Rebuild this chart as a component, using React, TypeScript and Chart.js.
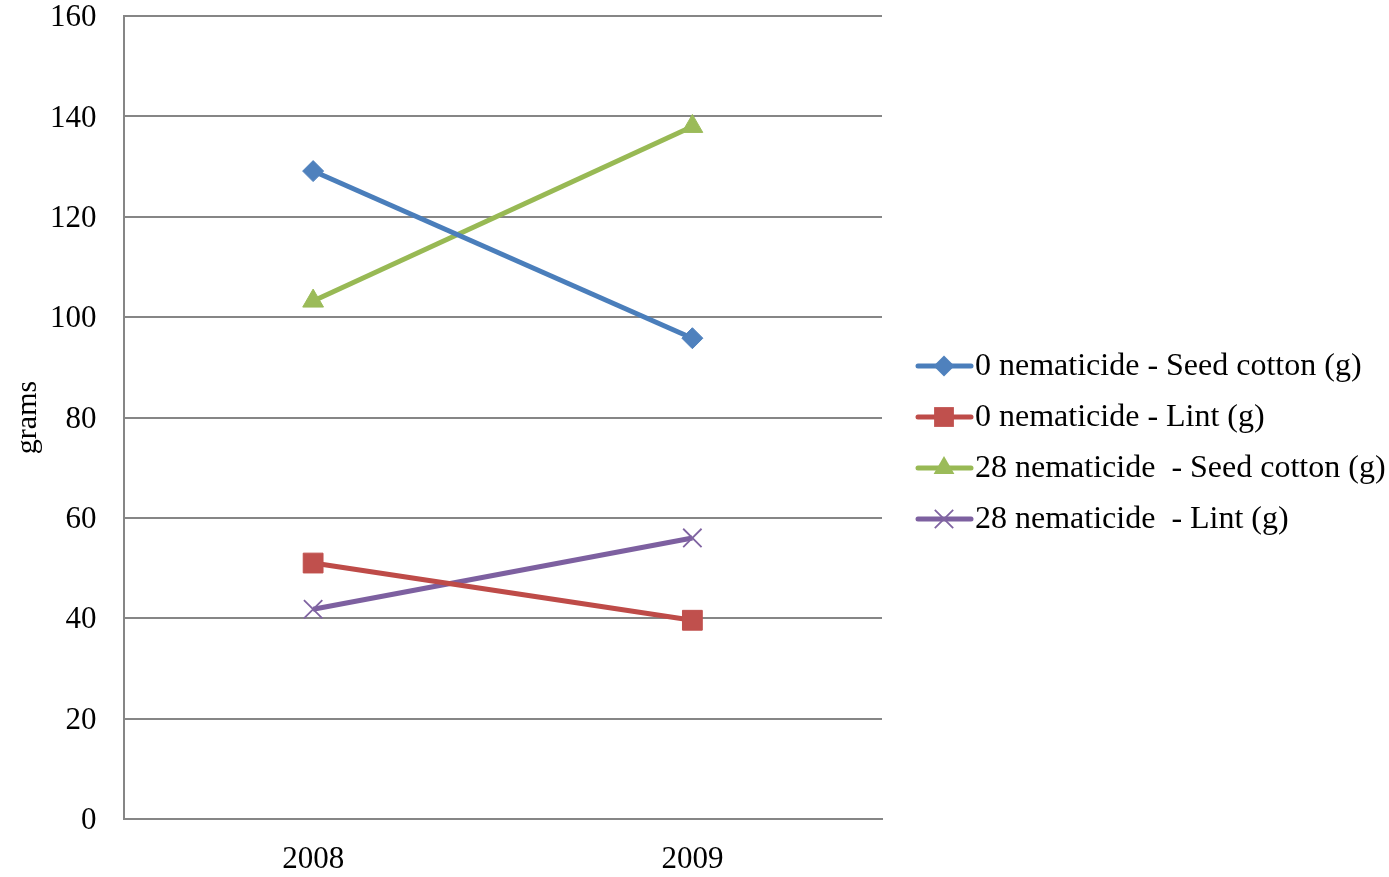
import React, { useEffect, useRef } from "react";
import { Chart, registerables } from "chart.js";

Chart.register(...registerables);

const categories = ["2008", "2009"];
const seedCotton0 = [129.1, 95.8];
const lint0 = [51.0, 39.6];
const seedCotton28 = [103.2, 138.0];
const lint28 = [41.8, 56.0];
const seriesLabels = [
  "0 nematicide - Seed cotton (g)",
  "0 nematicide - Lint (g)",
  "28 nematicide  - Seed cotton (g)",
  "28 nematicide  - Lint (g)",
];
const yTicks = [0, 20, 40, 60, 80, 100, 120, 140, 160];
const yTitle = "grams";

const FONT = "'Liberation Serif', 'Times New Roman', serif";

function marker(ctx: CanvasRenderingContext2D, style: string, r: number, x: number, y: number, fill: string, bw: number) {
  ctx.fillStyle = fill;
  ctx.strokeStyle = fill;
  ctx.lineWidth = bw;
  ctx.beginPath();
  if (style === "rectRot") {
    ctx.moveTo(x - r, y);
    ctx.lineTo(x, y - r);
    ctx.lineTo(x + r, y);
    ctx.lineTo(x, y + r);
    ctx.closePath();
    ctx.fill();
  } else if (style === "rect") {
    const s = Math.SQRT1_2 * r;
    ctx.rect(x - s, y - s, 2 * s, 2 * s);
    ctx.fill();
  } else if (style === "triangle") {
    for (let k = 0; k < 3; k++) {
      const a = (k * 2 * Math.PI) / 3;
      const px = x + Math.sin(a) * r;
      const py = y - Math.cos(a) * r;
      if (k === 0) ctx.moveTo(px, py);
      else ctx.lineTo(px, py);
    }
    ctx.closePath();
    ctx.fill();
  } else {
    const d = Math.SQRT1_2 * r;
    ctx.moveTo(x - d, y - d);
    ctx.lineTo(x + d, y + d);
    ctx.moveTo(x + d, y - d);
    ctx.lineTo(x - d, y + d);
    ctx.stroke();
  }
}

const legendPlugin = {
  id: "customLegend",
  afterDraw(chart: any) {
    const ctx = chart.ctx as CanvasRenderingContext2D;
    ctx.save();
    ctx.fillStyle = "#000";
    ctx.font = `30px ${FONT}`;
    ctx.textAlign = "center";
    ctx.textBaseline = "middle";
    ctx.translate(28, (chart.chartArea.top + chart.chartArea.bottom) / 2);
    ctx.rotate(-Math.PI / 2);
    ctx.fillText(yTitle, 0, 0);
    ctx.restore();

    ctx.save();
    const startY = 366;
    const gap = 51;
    chart.data.datasets.forEach((ds: any, i: number) => {
      const y = startY + i * gap;
      ctx.strokeStyle = ds.borderColor;
      ctx.lineWidth = 5;
      ctx.lineCap = "round";
      ctx.beginPath();
      ctx.moveTo(918, y);
      ctx.lineTo(971, y);
      ctx.stroke();
      ctx.lineCap = "butt";
      marker(ctx, ds.pointStyle, ds.pointRadius, 944, y, ds.pointBackgroundColor, ds.pointBorderWidth);
      ctx.fillStyle = "#000";
      ctx.font = `32px ${FONT}`;
      ctx.textAlign = "left";
      ctx.textBaseline = "middle";
      ctx.fillText(ds.label, 975, y + 1);
    });
    ctx.restore();
  },
};

export default function App() {
  const ref = useRef<HTMLCanvasElement | null>(null);
  useEffect(() => {
    document.body.style.margin = "0";
    const ctx = ref.current!.getContext("2d")!;
    const mk = (label: string, data: number[], line: string, fill: string, style: string, r: number, bw: number) => ({
      label,
      data,
      borderColor: line,
      backgroundColor: fill,
      borderWidth: 5,
      pointStyle: style,
      pointRadius: r,
      pointHoverRadius: r,
      pointBackgroundColor: fill,
      pointBorderColor: fill,
      pointBorderWidth: bw,
      tension: 0,
    });
    const chart = new Chart(ctx, {
      type: "line",
      data: {
        labels: categories,
        datasets: [
          mk(seriesLabels[0], seedCotton0, "#4A7EBB", "#4F81BD", "rectRot", 10.5, 1),
          mk(seriesLabels[1], lint0, "#BE4B48", "#C0504D", "rect", 14, 1),
          mk(seriesLabels[2], seedCotton28, "#98B954", "#9BBB59", "triangle", 12, 1),
          mk(seriesLabels[3], lint28, "#7D60A0", "#8064A2", "crossRot", 13, 1.8),
        ],
      },
      options: {
        animation: false,
        responsive: false,
        events: [],
        layout: { padding: { left: 0, top: 16, right: 507, bottom: 0 } },
        plugins: { legend: { display: false }, tooltip: { enabled: false } },
        scales: {
          x: {
            offset: true,
            grid: { display: false, drawTicks: false },
            border: { display: true, color: "#868686", width: 2 },
            ticks: { color: "#000", font: { family: FONT, size: 31 }, padding: 22 },
            afterFit(scale: any) {
              scale.height = 58;
              scale.paddingLeft = 0;
              scale.paddingRight = 0;
            },
          },
          y: {
            min: 0,
            max: 160,
            afterBuildTicks(scale: any) {
              scale.ticks = yTicks.map((v) => ({ value: v }));
            },
            grid: { color: "#868686", lineWidth: 2, drawTicks: false },
            border: { display: true, color: "#868686", width: 2 },
            ticks: { color: "#000", font: { family: FONT, size: 31 }, padding: 27, labelOffset: 2 },
            afterFit(scale: any) {
              scale.width = 123.5;
              scale.paddingTop = 0;
              scale.paddingBottom = 0;
            },
          },
        },
      },
      plugins: [legendPlugin],
    } as any);
    return () => chart.destroy();
  }, []);
  return (
    <div style={{ position: "fixed", left: 0, top: 0, width: 1389, height: 877, background: "#fff" }}>
      <canvas ref={ref} width={1389} height={877} style={{ width: 1389, height: 877 }} />
    </div>
  );
}
